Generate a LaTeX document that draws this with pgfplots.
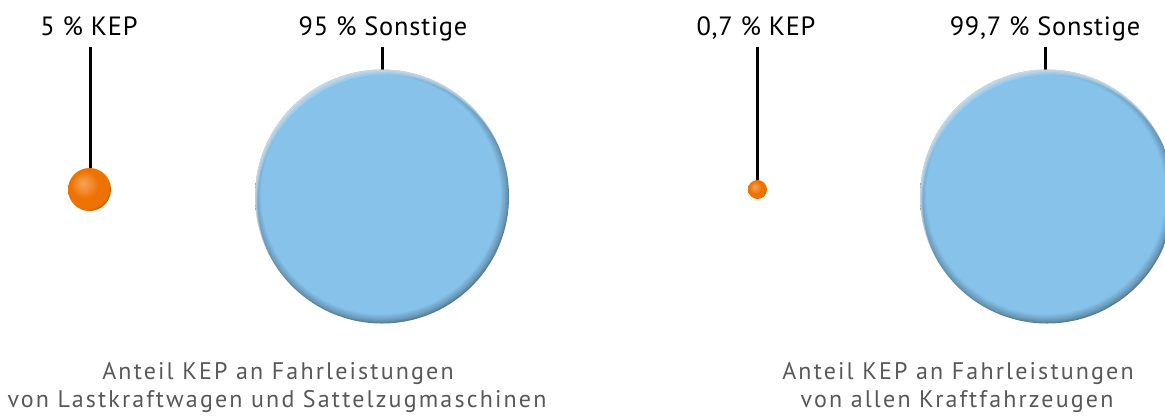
\documentclass[border=0pt]{standalone}
\usepackage{pgfplots}
\pgfplotsset{compat=1.18}
\usepackage{fontspec}
\setmainfont{PT Sans}
\newfontfamily\labelfont[LetterSpace=3]{PT Sans}
\newfontfamily\notefont[LetterSpace=9]{PT Sans}

\definecolor{kblue}{RGB}{134,194,234}
\definecolor{korange}{RGB}{238,114,0}
\definecolor{textgray}{RGB}{88,88,88}

% flat blue disc, darker rim at the lower right
\pgfdeclareradialshading{bluerim}{\pgfpoint{-0.6bp}{0.9bp}}{%
  color(0bp)=(kblue); color(23.5bp)=(kblue);
  color(24.8bp)=(kblue!78!black); color(26bp)=(kblue!42!black);
  color(50bp)=(kblue!35!black)}
% orange ball
\pgfdeclareradialshading{orangeball}{\pgfpoint{-8bp}{8bp}}{%
  color(0bp)=(korange!65!white); color(10bp)=(korange!85!white);
  color(16bp)=(korange); color(26bp)=(korange);
  color(31bp)=(korange!70!black); color(36bp)=(korange!40!black);
  color(50bp)=(korange!30!black)}

\pgfdeclareplotmark{bluesph}{%
  \begin{pgfscope}
    \pgfpathcircle{\pgfpointorigin}{\pgfplotmarksize}%
    \pgfshadepath{bluerim}{0}%
    \pgfusepath{discard}%
  \end{pgfscope}
  \begin{pgfscope}
    \pgfpathcircle{\pgfpointorigin}{\pgfplotmarksize}%
    \pgfusepath{clip}%
    \pgfseteorule
    \pgfsetfillcolor{white}%
    \pgfsetfillopacity{0.2}%
    \foreach \k in {0.01,0.02,0.03,0.04}{%
      \pgfpathcircle{\pgfpointorigin}{1.2\pgfplotmarksize}%
      \pgfpathcircle{\pgfpoint{0.5*\k\pgfplotmarksize}{-\k\pgfplotmarksize}}{\pgfplotmarksize}%
      \pgfusepath{fill}%
    }%
  \end{pgfscope}
}
\pgfdeclareplotmark{orangesph}{%
  \pgfpathcircle{\pgfpointorigin}{\pgfplotmarksize}%
  \pgfshadepath{orangeball}{0}%
  \pgfusepath{discard}%
}

\begin{document}
\begin{tikzpicture}
\begin{axis}[
    name=ax,
    x=0.5pt, y=0.5pt,
    xmin=0, xmax=1165, ymin=0, ymax=418,
    y dir=reverse,
    hide axis,
    clip=true,
  ]
  % leader lines
  \addplot[black, line width=1.5pt] coordinates {(90,47) (90,170)};
  \addplot[black, line width=1.5pt] coordinates {(382,47) (382,72)};
  \addplot[black, line width=1.5pt] coordinates {(757,47) (757,182)};
  \addplot[black, line width=1.5pt] coordinates {(1045,47) (1045,74)};
  % Sonstige (95 %, 99,7 %)
  \addplot[only marks, mark=bluesph, mark size=63.5pt] coordinates {(382,196.5) (1047,196.5)};
  % KEP (5 %, 0,7 %)
  \addplot[only marks, mark=orangesph, mark size=10.75pt] coordinates {(89.5,189.5)};
  \addplot[only marks, mark=orangesph, mark size=4.75pt] coordinates {(757.5,189.5)};

  \begin{scope}[every node/.style={anchor=base, inner sep=0pt, font=\labelfont\fontsize{13.2}{15}\selectfont}]
    \node at (axis cs:89,35) {5 \% KEP};
    \node at (axis cs:383,35) {95 \% Sonstige};
    \node at (axis cs:756,35) {0,7 \% KEP};
    \node at (axis cs:1045,35) {99,7 \% Sonstige};
  \end{scope}
  \begin{scope}[every node/.style={anchor=base, inner sep=0pt, text=textgray, font=\notefont\fontsize{12}{14}\selectfont}]
    \node at (axis cs:278,379) {Anteil KEP an Fahrleistungen};
    \node at (axis cs:277,407) {von Lastkraftwagen und Sattelzugmaschinen};
    \node at (axis cs:958,379) {Anteil KEP an Fahrleistungen};
    \node at (axis cs:957,407) {von allen Kraftfahrzeugen};
  \end{scope}
\end{axis}
\pgfresetboundingbox
\path (ax.south west) rectangle (ax.north east);
\end{tikzpicture}
\end{document}
